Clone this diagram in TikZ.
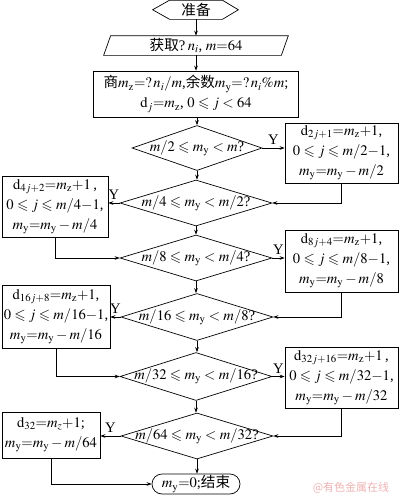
\documentclass[tikz,border=0pt]{standalone}
\usepackage{mathptmx}
\usepackage{amssymb}
\usepackage{fontspec}
\setmainfont{Liberation Serif}
\newfontfamily\cjk{Noto Sans CJK SC}
\usetikzlibrary{shapes.geometric,shapes.misc,arrows.meta,calc}
\definecolor{wm}{RGB}{238,178,178}
\begin{document}
\begin{tikzpicture}[x=1pt,y=-1pt,
  font=\fontsize{14.6}{20}\selectfont,
  line width=0.7pt,
  box/.style={draw, rectangle, inner sep=0pt, align=center},
  dia/.style={draw, diamond, minimum width=152pt, minimum height=46pt, inner sep=0pt},
  plain/.style={inner sep=0pt, align=center},
  arr/.style={-{Stealth[length=5pt,width=3.6pt]}},
  ylab/.style={midway, above=3pt, inner sep=0pt}
]
\useasboundingbox (0,0) rectangle (400,496);
\thickmuskip=4mu plus 2mu

% start hexagon
\node[plain, minimum width=52pt, minimum height=18.5pt] (hex) at (196,9.75) {{\cjk 准备}};
\draw ($(hex.north west)$) -- (hex.north east) -- ($(hex.east)+(16,0)$) -- (hex.south east)
  -- (hex.south west) -- ($(hex.west)+(-17,0)$) -- cycle;

% input parallelogram
\node[plain, minimum width=177pt, minimum height=19pt] (para) at (196,45.5) {{\cjk 获取}?\,$n_i$,\ $m{=}64$};
\draw ($(para.north west)+(3.5,0)$) -- ($(para.north east)+(3.5,0)$) -- ($(para.south east)+(-3.5,0)$)
  -- ($(para.south west)+(-3.5,0)$) -- cycle;

% process
\node[box, minimum width=205pt, minimum height=46pt] (proc) at (196,94)
  {{\cjk 商}$m_{\mathrm{z}}{=}{?}\,n_i/m$,{\cjk 余数}$m_{\mathrm{y}}{=}{?}\,n_i\%m$;\\
   $\mathrm{d}_j{=}m_{\mathrm{z}}$, $0\leqslant j<64$};

% decisions
\node[dia, minimum width=130pt, minimum height=45pt] (d1) at (197,148) {\makebox[0pt]{$m/2\leqslant m_{\mathrm{y}}<m$?}};
\node[dia] (d2) at (196,203) {\makebox[0pt]{$m/4\leqslant m_{\mathrm{y}}<m/2$?}};
\node[dia] (d3) at (196,258) {\makebox[0pt]{$m/8\leqslant m_{\mathrm{y}}<m/4$?}};
\node[dia, minimum height=47pt] (d4) at (197,317) {\makebox[0pt]{$m/16\leqslant m_{\mathrm{y}}<m/8$?}};
\node[dia, minimum height=48pt] (d5) at (196,376.5) {\makebox[0pt]{$m/32\leqslant m_{\mathrm{y}}<m/16$?}};
\node[dia] (d6) at (197,436) {\makebox[0pt]{$m/64\leqslant m_{\mathrm{y}}<m/32$?}};

% end
\node[draw, rounded rectangle, minimum width=88pt, minimum height=20pt, inner sep=0pt] (stop) at (196,484)
  {$m_{\mathrm{y}}{=}0$;{\cjk 结束}};

% side boxes
\node[box, minimum width=113pt, minimum height=60pt] (r1) at (341.5,153)
  {$\mathrm{d}_{2j+1}{=}m_{\mathrm{z}}{+}1$,\\ $0\leqslant j\leqslant m/2{-}1$,\\ $m_{\mathrm{y}}{=}m_{\mathrm{y}}-m/2$};
\node[box, minimum width=106pt, minimum height=61pt] (l1) at (55,206.5)
  {$\mathrm{d}_{4j+2}{=}m_{\mathrm{z}}{+}1$\,,\\ $0\leqslant j\leqslant m/4{-}1$,\\ $m_{\mathrm{y}}{=}m_{\mathrm{y}}-m/4$};
\node[box, minimum width=113pt, minimum height=62pt] (r2) at (341.5,261)
  {$\mathrm{d}_{8j+4}{=}m_{\mathrm{z}}{+}1$,\\ $0\leqslant j\leqslant m/8{-}1$,\\ $m_{\mathrm{y}}{=}m_{\mathrm{y}}-m/8$};
\node[box, minimum width=108pt, minimum height=63pt] (l2) at (56,316.5)
  {$\mathrm{d}_{16j+8}{=}m_{\mathrm{z}}{+}1$,\\ $0\leqslant j\leqslant m/16{-}1$,\\ $m_{\mathrm{y}}{=}m_{\mathrm{y}}-m/16$};
\node[box, minimum width=113pt, minimum height=61pt] (r3) at (341.5,377.5)
  {$\mathrm{d}_{32j+16}{=}m_{\mathrm{z}}{+}1$\,,\\ $0\leqslant j\leqslant m/32{-}1$,\\ $m_{\mathrm{y}}{=}m_{\mathrm{y}}-m/32$};
\node[box, minimum width=98pt, minimum height=46pt] (l3) at (51,435)
  {$\mathrm{d}_{32}{=}m_{z}{+}1$;\\ $m_{\mathrm{y}}{=}m_{\mathrm{y}}-m/64$};

% main column
\draw[arr] (hex) -- (para);
\draw[arr] (para) -- (proc);
\draw[arr] (proc.south -| d1.north) -- (d1.north);
\draw[arr] (d1.south) -- (d1.south |- d2.north);
\draw[arr] (d2.south) -- (d2.south |- d3.north);
\draw[arr] (d3.south) -- (d3.south |- d4.north);
\draw[arr] (d4.south) -- (d4.south |- d5.north);
\draw[arr] (d5.south) -- (d5.south |- d6.north);
\draw[arr] (d6.south) -- (d6.south |- stop.north);

% Y branches
\draw[arr] (d1.east) -- (d1.east -| r1.west) node[ylab] {Y};
\draw[arr] (d2.west) -- (d2.west -| l1.east) node[ylab] {Y};
\draw[arr] (d3.east) -- (d3.east -| r2.west) node[ylab] {Y};
\draw[arr] (d4.west) -- (d4.west -| l2.east) node[ylab] {Y};
\draw[arr] (d5.east) -- (d5.east -| r3.west) node[ylab] {Y};
\draw[arr] (d6.west) -- (d6.west -| l3.east) node[ylab] {Y};

% returns
\draw[arr] (r1.south) |- (d2.east);
\draw[arr] (l1.south) |- (d3.west);
\draw[arr] (r2.south) |- (d4.east);
\draw[arr] (l2.south) |- (d5.west);
\draw[arr] (r3.south) |- (d6.east);
\draw[arr] (l3.south) |- (stop.west);

% watermark
\node[plain, text=wm, font=\fontsize{11}{12}\selectfont\cjk] (wmk) at (351,488) {@有色金属在线};
\end{tikzpicture}
\end{document}
